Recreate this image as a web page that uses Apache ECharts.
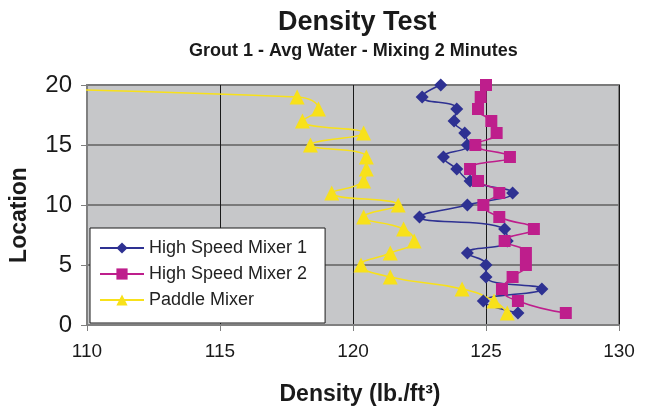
<!DOCTYPE html>
<html>
<head>
<meta charset="utf-8">
<title>Density Test</title>
<script src="https://cdn.jsdelivr.net/npm/echarts@6/dist/echarts.min.js"></script>
<style>
  html, body { margin: 0; padding: 0; background: #fff; }
  #chart { width: 651px; height: 411px; }
</style>
</head>
<body>
<div id="chart"></div>
<script>
// location 1..20 (bottom to top)
const locations = [1, 2, 3, 4, 5, 6, 7, 8, 9, 10, 11, 12, 13, 14, 15, 16, 17, 18, 19, 20];

// density (lb./ft3) read at each location
const highSpeed1 = [126.2, 124.9, 127.1, 125.0, 125.0, 124.3, 125.8, 125.7, 122.5, 124.3,
                    126.0, 124.4, 123.9, 123.4, 124.3, 124.2, 123.8, 123.9, 122.6, 123.3];
const highSpeed2 = [128.0, 126.2, 125.6, 126.0, 126.5, 126.5, 125.7, 126.8, 125.5, 124.9,
                    125.5, 124.7, 124.4, 125.9, 124.6, 125.4, 125.2, 124.7, 124.8, 125.0];
// last reading is off the scale (runs out past the left edge)
const paddle = [125.8, 125.3, 124.1, 121.4, 120.3, 121.4, 122.3, 121.9, 120.4, 121.7,
                119.2, 120.4, 120.5, 120.5, 118.4, 120.4, 118.1, 118.7, 117.9, 97.0];

const seriesNames = ["High Speed Mixer 1", "High Speed Mixer 2", "Paddle Mixer"];
const xTicks = [110, 115, 120, 125, 130];
const yTicks = [0, 5, 10, 15, 20];

const FONT = "Liberation Sans, Arial, sans-serif";

const pairs = (vals) => vals.map((v, i) => [v, locations[i]]);

const chart = echarts.init(document.getElementById("chart"));

const makeSeries = (name, vals, color, symbol, size) => ({
  name: name,
  type: "line",
  data: pairs(vals),
  smooth: 0.5,
  symbol: symbol,
  symbolSize: size,
  color: color,
  lineStyle: { color: color, width: 1.5 },
  itemStyle: { color: color },
  clip: true,
  animation: false,
});

chart.setOption({
  backgroundColor: "#fff",
  textStyle: { fontFamily: FONT },
  title: [
    {
      text: "Density Test",
      left: 278,
      top: 9,
      padding: 0,
      textStyle: { fontSize: 27, fontWeight: "bold", color: "#1a1a1a", fontFamily: FONT },
    },
    {
      text: "Grout 1 - Avg Water - Mixing 2 Minutes",
      left: 189,
      top: 42,
      padding: 0,
      textStyle: { fontSize: 18, fontWeight: "bold", color: "#1a1a1a", fontFamily: FONT },
    },
  ],
  grid: {
    left: 87,
    right: 32,
    top: 85,
    bottom: 84,
    show: true,
    backgroundColor: "#c6c7c9",
    borderColor: "#808080",
    borderWidth: 2,
  },
  legend: {
    data: seriesNames,
    orient: "vertical",
    left: 90,
    top: 228,
    padding: [11, 18, 14, 9],
    itemWidth: 44,
    itemHeight: 14,
    itemGap: 8,
    backgroundColor: "#fff",
    borderColor: "#1a1a1a",
    borderWidth: 1,
    textStyle: { fontSize: 18, color: "#222", fontFamily: FONT },
  },
  xAxis: {
    type: "value",
    min: xTicks[0],
    max: xTicks[xTicks.length - 1],
    interval: 5,
    name: "Density (lb./ft³)",
    nameLocation: "middle",
    nameGap: 58,
    nameTextStyle: { fontSize: 23, fontWeight: "bold", color: "#1a1a1a", padding: [0, 0, 0, 14] },
    axisLine: { lineStyle: { color: "#808080", width: 2 } },
    axisTick: { length: 6, lineStyle: { color: "#808080" } },
    axisLabel: { fontSize: 19, color: "#1a1a1a", margin: 17 },
    splitLine: { lineStyle: { color: "#1a1a1a", width: 1 } },
  },
  yAxis: {
    type: "value",
    min: yTicks[0],
    max: yTicks[yTicks.length - 1],
    interval: 5,
    name: "Location",
    nameLocation: "middle",
    nameGap: 56,
    nameTextStyle: { fontSize: 23, fontWeight: "bold", color: "#1a1a1a", padding: [0, 20, 0, 0] },
    axisLine: { show: true, lineStyle: { color: "#808080", width: 2 } },
    axisTick: { show: true, length: 6, lineStyle: { color: "#808080" } },
    axisLabel: { fontSize: 24, color: "#1a1a1a", margin: 15 },
    splitLine: { lineStyle: { color: "#7a7a7a", width: 2 } },
  },
  series: [
    makeSeries(seriesNames[0], highSpeed1, "#2e3192", "diamond", 13),
    makeSeries(seriesNames[1], highSpeed2, "#be1e8c", "rect", 12),
    makeSeries(seriesNames[2], paddle, "#f8e11a", "triangle", 15),
  ],
});

window.addEventListener("resize", () => chart.resize());
</script>
</body>
</html>
